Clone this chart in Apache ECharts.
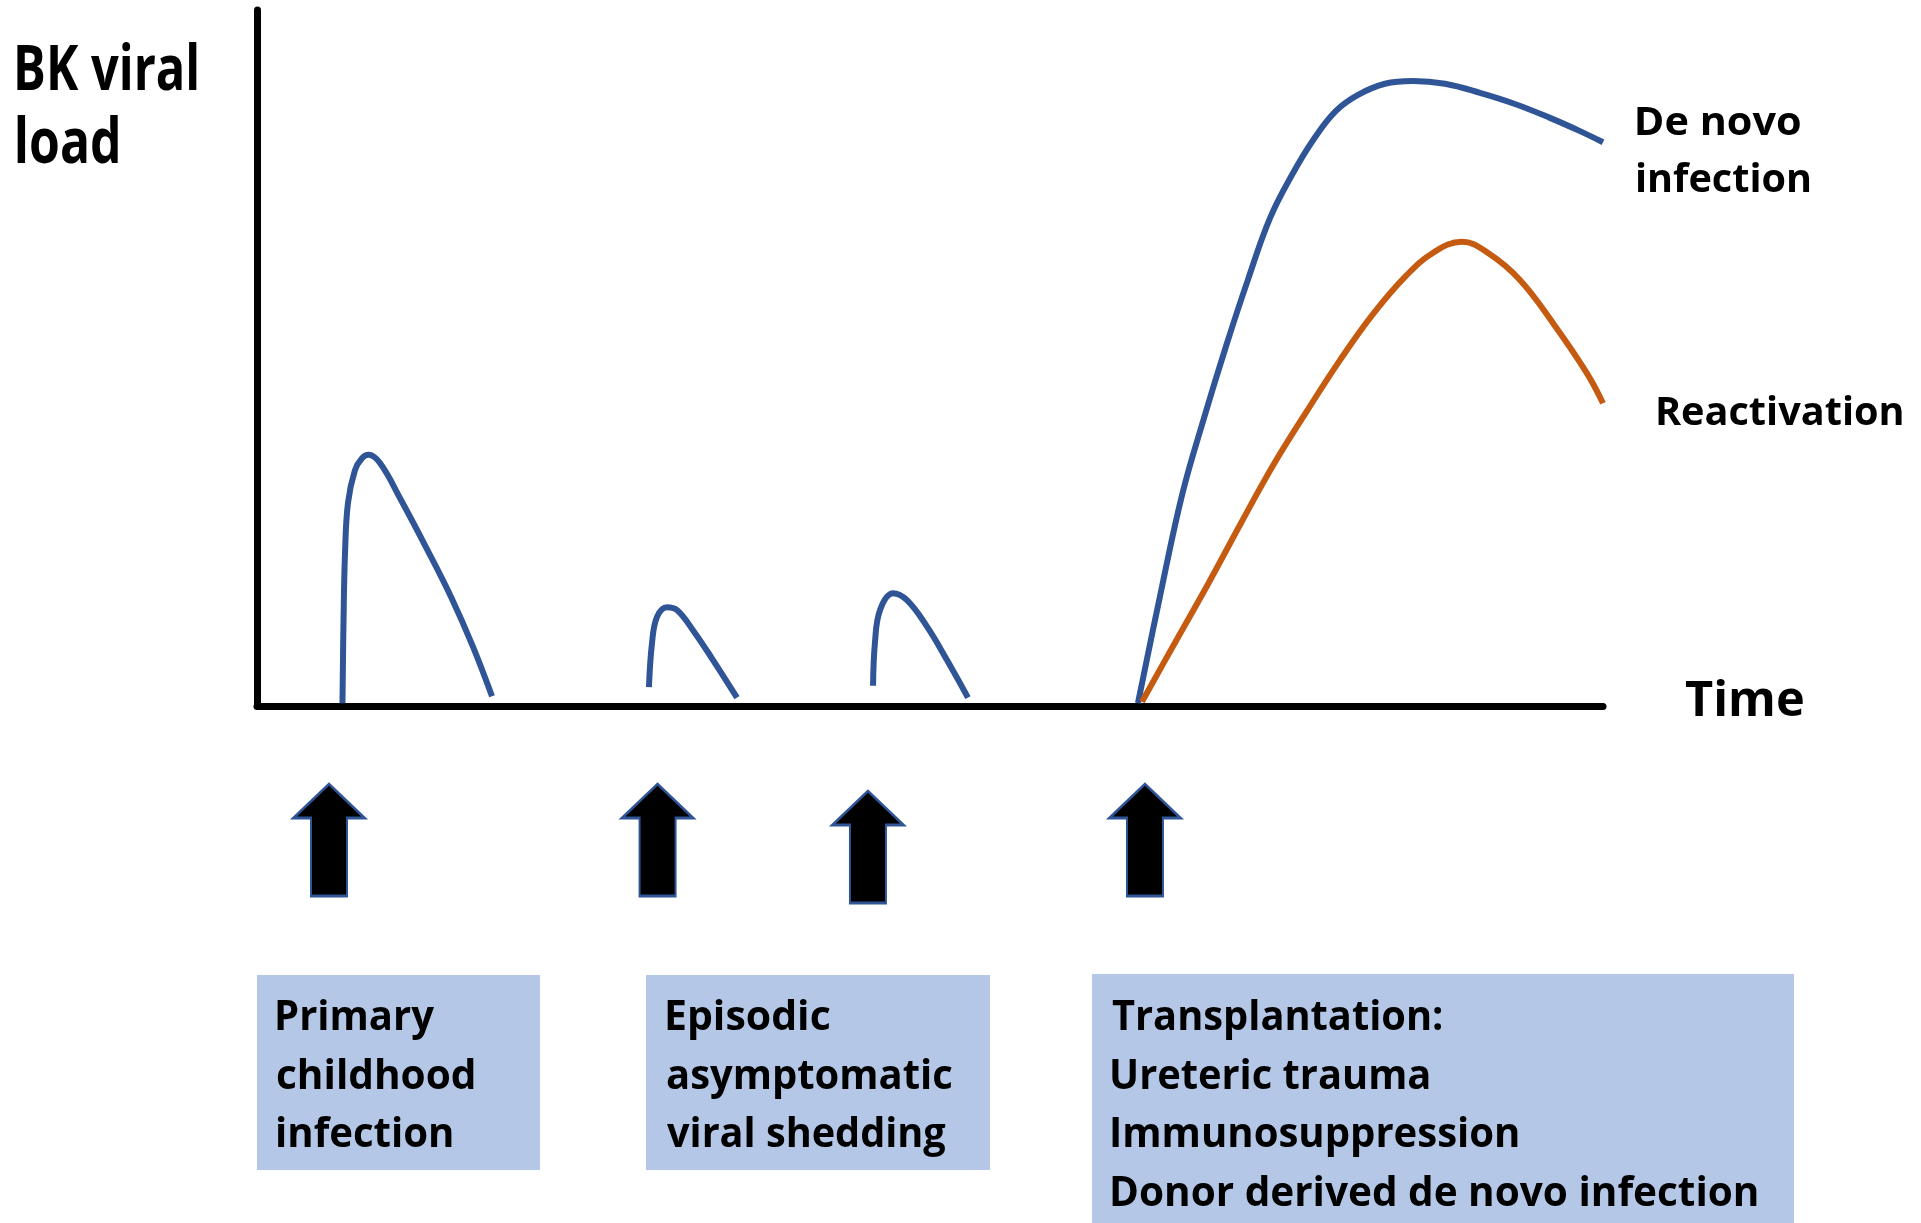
<!DOCTYPE html>
<html>
<head>
<meta charset="utf-8">
<script src="https://cdn.jsdelivr.net/npm/echarts@6/dist/echarts.min.js"></script>
<style>
html,body{margin:0;padding:0;background:#ffffff;}
#chart{width:1921px;height:1223px;}
</style>
</head>
<body>
<div id="chart"></div>
<script>
// ---------------- data (time units 0..100, viral load units 0..100) ----------------
const yAxisTitle = ['BK viral', 'load'];
const xAxisTitle = ['Time'];
const deNovoLabel = ['De novo', 'infection'];
const reactivationLabel = ['Reactivation'];
const primaryBox = ['Primary', 'childhood', 'infection'];
const sheddingBox = ['Episodic', 'asymptomatic', 'viral shedding'];
const transplantBox = ['Transplantation:', 'Ureteric trauma', 'Immunosuppression', 'Donor derived de novo infection'];

const primaryInfection = [
  [6.35, 0.4], [6.43, 12.4], [6.54, 22.0], [6.76, 29.2], [7.28, 33.9], [7.80, 35.6],
  [8.29, 36.1], [9.14, 34.9], [10.70, 29.6], [12.56, 22.8], [14.41, 15.7], [16.05, 8.5], [17.46, 1.4]
];
const sheddingEpisode1 = [
  [29.12, 2.7], [29.35, 9.1], [29.72, 12.8], [30.46, 14.2], [31.20, 13.8], [32.39, 10.9], [33.88, 6.6], [35.66, 1.2]
];
const sheddingEpisode2 = [
  [45.77, 2.9], [45.91, 9.1], [46.29, 13.8], [47.25, 16.2], [48.29, 15.2], [49.78, 11.4], [51.26, 6.6], [52.82, 1.2]
];
const deNovoInfection = [
  [65.45, 0.4], [67.09, 15.8], [68.75, 30.5], [70.36, 41.4], [72.01, 51.8], [73.63, 61.3], [75.26, 70.1],
  [76.89, 76.3], [78.53, 81.5], [80.16, 85.5], [81.80, 87.8], [83.80, 89.4], [85.88, 89.8], [88.26, 89.4],
  [90.86, 88.1], [93.46, 86.5], [96.06, 84.5], [98.29, 82.6], [100.0, 81.0]
];
const reactivation = [
  [65.75, 0.6], [68.20, 9.1], [70.65, 17.5], [73.11, 26.3], [75.56, 34.8], [78.01, 42.4], [80.46, 49.7],
  [82.91, 56.3], [85.36, 61.8], [87.44, 65.2], [89.52, 66.7], [91.60, 64.9], [93.83, 61.2], [96.29, 55.0],
  [98.81, 47.8], [100.0, 43.5]
];
const eventTimes = [5.35, 29.76, 45.39, 65.97];

// ---------------- styling / layout ----------------
const BLUE = '#2f5597';
const ORANGE = '#c55a11';
const BOX = '#b4c7e7';
const FONT = '"Open Sans", "Noto Sans", sans-serif';
const arrowDrops = [134, 134, 141, 134];
const ARROW_PATH = 'path://M35.5,0 L71,34 L53.5,34 L53.5,112 L17.5,112 L17.5,34 L0,34 Z';

const probe = document.createElement('canvas').getContext('2d');
function textBlock(lines, left, baselines, cap, widths) {
  probe.textBaseline = 'middle';
  probe.font = '700 100px ' + FONT;
  const mH = probe.measureText('H');
  const capRatio = (mH.actualBoundingBoxAscent + mH.actualBoundingBoxDescent) / 100;
  const fs = cap / capRatio;
  const font = '700 ' + fs.toFixed(2) + 'px ' + FONT;
  probe.font = font;
  const off = probe.measureText('H').actualBoundingBoxDescent;
  return lines.map(function (t, i) {
    const m = probe.measureText(t);
    const ink = m.actualBoundingBoxLeft + m.actualBoundingBoxRight;
    const sx = widths[i] / ink;
    return {
      type: 'text',
      x: left + m.actualBoundingBoxLeft * sx,
      y: baselines[i] - off,
      scaleX: sx,
      z: 20,
      style: { text: t, x: 0, y: 0, font: font, fill: '#000000', align: 'left', verticalAlign: 'middle' }
    };
  });
}

const boxes = [
  { type: 'rect', shape: { x: 257, y: 975, width: 283, height: 195 }, style: { fill: BOX }, z: 5 },
  { type: 'rect', shape: { x: 646, y: 975, width: 344, height: 195 }, style: { fill: BOX }, z: 5 },
  { type: 'rect', shape: { x: 1092, y: 974, width: 702, height: 260 }, style: { fill: BOX }, z: 5 }
];

const texts = [].concat(
  textBlock(yAxisTitle, 17, [90, 163], 45, [180, 101]),
  textBlock(xAxisTitle, 1685, [716], 35, [118]),
  textBlock(deNovoLabel, 1637, [135, 192], 28.5, [163, 173]),
  textBlock(reactivationLabel, 1658, [425], 28, [244]),
  textBlock(primaryBox, 277, [1030, 1089, 1147], 29, [157, 197, 175]),
  textBlock(sheddingBox, 667, [1030, 1089, 1147], 29, [163, 285, 279]),
  textBlock(transplantBox, 1112, [1030, 1089, 1147, 1206], 29, [330, 317, 406, 645])
);

function curve(name, data, color) {
  return {
    name: name, type: 'line', data: data, smooth: 0.4, showSymbol: false, symbol: 'none',
    lineStyle: { color: color, width: 6, cap: 'butt' }, z: 3, silent: true
  };
}

const chart = echarts.init(document.getElementById('chart'), null, { renderer: 'canvas' });
chart.setOption({
  backgroundColor: '#ffffff',
  animation: false,
  grid: { left: 257, right: 318, top: 10, bottom: 517, containLabel: false, outerBoundsMode: 'none' },
  xAxis: {
    type: 'value', min: 0, max: 100,
    axisLine: { show: true, onZero: false, lineStyle: { color: '#000000', width: 7 } },
    axisTick: { show: false }, axisLabel: { show: false }, splitLine: { show: false }
  },
  yAxis: {
    type: 'value', min: 0, max: 100,
    axisLine: { show: true, onZero: false, lineStyle: { color: '#000000', width: 7 } },
    axisTick: { show: false }, axisLabel: { show: false }, splitLine: { show: false }
  },
  series: [
    curve('Primary childhood infection', primaryInfection, BLUE),
    curve('Episodic shedding 1', sheddingEpisode1, BLUE),
    curve('Episodic shedding 2', sheddingEpisode2, BLUE),
    curve('De novo infection', deNovoInfection, BLUE),
    curve('Reactivation', reactivation, ORANGE),
    {
      name: 'Events', type: 'scatter', clip: false, silent: true, z: 4,
      symbol: ARROW_PATH, symbolSize: [71, 112],
      itemStyle: { color: '#000000', borderColor: BLUE, borderWidth: 2.5, opacity: 1 },
      data: eventTimes.map(function (t, i) { return { value: [t, 0], symbolOffset: [0, arrowDrops[i]] }; })
    }
  ],
  graphic: { elements: boxes.concat(texts) }
});
</script>
</body>
</html>
